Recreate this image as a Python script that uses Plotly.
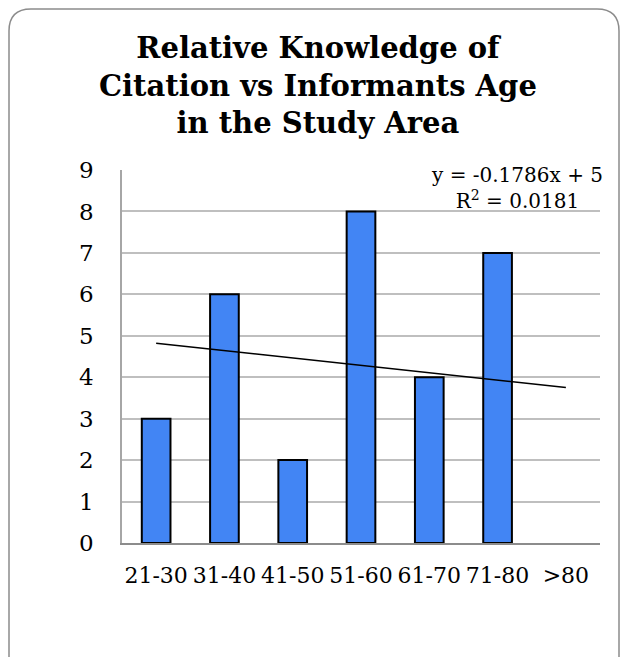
import numpy as np
import plotly.graph_objects as go

# Age groups of informants and their relative citation counts
age_groups = ["21-30", "31-40", "41-50", "51-60", "61-70", "71-80", ">80"]
citations = [3, 6, 2, 8, 4, 7, 0]
y_ticks = [0, 1, 2, 3, 4, 5, 6, 7, 8, 9]

title_lines = ["Relative Knowledge of", "Citation vs Informants Age", "in the Study Area"]

# Linear trend over category index (1..n)
idx = np.arange(1, len(citations) + 1)
slope, intercept = np.polyfit(idx, citations, 1)
fitted = slope * idx + intercept
ss_res = np.sum((np.array(citations) - fitted) ** 2)
ss_tot = np.sum((np.array(citations) - np.mean(citations)) ** 2)
r2 = 1 - ss_res / ss_tot

W, H = 625, 657
L, R, T, B = 122, 25, 170, 114
pw, ph = W - L - R, H - T - B

def px(x):
    return (x - L) / pw

def py(y):
    return (H - B - y) / ph

# Rounded outer frame
x0, x1, y0, y1, rad = 9, 619, 9, 720, 22
frame = (
    f"M {px(x0)},{py(y1)} L {px(x0)},{py(y0 + rad)} "
    f"Q {px(x0)},{py(y0)} {px(x0 + rad)},{py(y0)} "
    f"L {px(x1 - rad)},{py(y0)} "
    f"Q {px(x1)},{py(y0)} {px(x1)},{py(y0 + rad)} "
    f"L {px(x1)},{py(y1)}"
)

serif = "DejaVu Serif"

fig = go.Figure()
fig.add_trace(go.Bar(
    x=age_groups, y=citations,
    marker=dict(
        color="#4285F4",
        line=dict(color="black", width=[2 if v > 0 else 0 for v in citations]),
    ),
    width=0.42, showlegend=False,
))
fig.add_trace(go.Scatter(
    x=[age_groups[0], age_groups[-1]],
    y=[fitted[0], fitted[-1]],
    mode="lines", line=dict(color="black", width=1.5),
    showlegend=False, hoverinfo="skip",
))

fig.update_layout(
    width=W, height=H,
    margin=dict(l=L, r=R, t=T, b=B),
    paper_bgcolor="white", plot_bgcolor="white",
    font=dict(family=serif, color="black"),
    xaxis=dict(
        type="category", showgrid=False,
        showline=True, linecolor="#8C8C8C", linewidth=1.5,
        ticks="", tickfont=dict(size=22), ticklabelstandoff=12,
        tickangle=0,
    ),
    yaxis=dict(
        range=[0, 9], tickvals=y_ticks,
        showgrid=True, gridcolor="#BFBFBF", gridwidth=1.5,
        showline=True, linecolor="#A6A6A6", linewidth=1.5,
        zeroline=False,
        ticks="", tickfont=dict(size=23), ticklabelstandoff=22,
    ),
    shapes=[dict(
        type="path", path=frame, xref="paper", yref="paper",
        line=dict(color="#8C8C8C", width=1.5), layer="below",
    )],
    annotations=[
        dict(text="<b>" + "<br>".join(title_lines) + "</b>",
             xref="paper", yref="paper", x=px(318), y=py(85),
             showarrow=False, font=dict(size=29), align="center",
             xanchor="center", yanchor="middle"),
        dict(text=f"y = {slope:.4f}x + {intercept:.4g}<br>R<sup>2</sup> = {r2:.4f}",
             xref="paper", yref="paper", x=px(517), y=py(188),
             showarrow=False, font=dict(size=20), align="center",
             xanchor="center", yanchor="middle"),
    ],
)

fig.write_html("out.html")
